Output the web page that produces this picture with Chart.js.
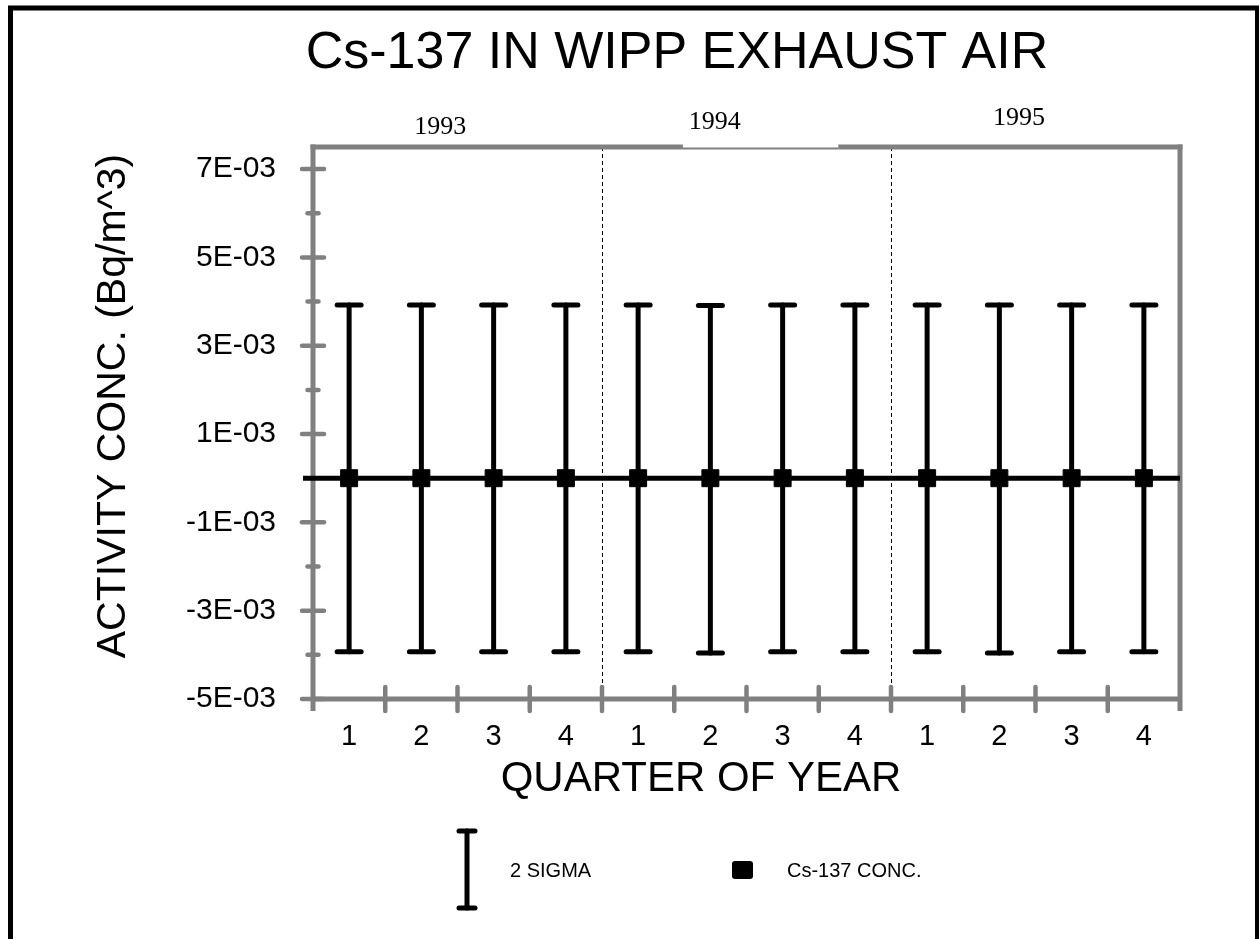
<!DOCTYPE html>
<html>
<head>
<meta charset="utf-8">
<title>Cs-137 IN WIPP EXHAUST AIR</title>
<script src="https://cdn.jsdelivr.net/npm/chart.js@4"></script>
<style>
body{margin:0;background:#fff;}
#wrap{width:1259px;height:939px;position:relative;}
</style>
</head>
<body>
<div id="wrap"><canvas id="chart"></canvas></div>
<script>
let quarters = ['1','2','3','4','1','2','3','4','1','2','3','4'];
let years = ['1993','1994','1995'];
let yearLabelPos = [1.26, 5.06, 9.27];
let yearLabelY = [127, 122, 118];
let concValues = [0,0,0,0,0,0,0,0,0,0,0,0];
let sigmaHigh = [0.00392,0.00392,0.00392,0.00392,0.00392,0.00391,0.00392,0.00392,0.00392,0.00392,0.00392,0.00392];
let sigmaLow = [-0.00393,-0.00393,-0.00393,-0.00393,-0.00393,-0.00396,-0.00393,-0.00393,-0.00393,-0.00396,-0.00393,-0.00393];
let yTickValues = [-0.005,-0.004,-0.003,-0.002,-0.001,0,0.001,0.002,0.003,0.004,0.005,0.006,0.007];
let yLabelValues = [-0.005,-0.003,-0.001,0.001,0.003,0.005,0.007];
let yLabelTexts = ['-5E-03','-3E-03','-1E-03','1E-03','3E-03','5E-03','7E-03'];

let frameGray = '#808080';
let sans = "'Liberation Sans', Arial, sans-serif";

function labelFor(v){
let i = yLabelValues.findIndex(function(l){ return Math.abs(l - v) < 1e-9; });
return i >= 0 ? yLabelTexts[i] : '';
}

function line(ctx, x1, y1, x2, y2){
ctx.beginPath();
ctx.moveTo(x1, y1);
ctx.lineTo(x2, y2);
ctx.stroke();
}

let decor = {
id:'decor',
beforeDatasetsDraw(chart){
let ctx = chart.ctx;
let a = chart.chartArea;
let x = chart.scales.x;
let y = chart.scales.y;

ctx.save();

// year dividers
ctx.strokeStyle = '#000';
ctx.lineWidth = 1;
ctx.setLineDash([4,3]);
[3.5, 7.5].forEach(function(v){
let px = Math.round(x.getPixelForValue(v)) + 0.5;
line(ctx, px, a.top, px, a.bottom);
});
ctx.setLineDash([]);

// frame
ctx.strokeStyle = frameGray;
ctx.lineWidth = 5;
ctx.lineCap = 'butt';
line(ctx, a.left, a.top - 2.5, a.left, a.bottom + 12);
line(ctx, a.right, a.top - 2.5, a.right, a.bottom + 12);
line(ctx, a.left, a.bottom, a.right, a.bottom);
let g1 = x.getPixelForValue(4.62);
let g2 = x.getPixelForValue(6.77);
line(ctx, a.left - 2.5, a.top, g1, a.top);
line(ctx, g2, a.top, a.right + 2.5, a.top);
ctx.lineWidth = 2;
line(ctx, g1, a.top + 1.5, g2, a.top + 1.5);

// tick marks
ctx.lineWidth = 4.5;
ctx.lineCap = 'round';
yTickValues.forEach(function(v){
let py = y.getPixelForValue(v);
let len = labelFor(v) ? 11 : 5.5;
if (v !== 0) line(ctx, a.left - len, py, a.left + len, py);
});
for (let i = 1; i < quarters.length; i++){
let px = x.getPixelForValue(i - 0.5);
line(ctx, px, a.bottom - 12, px, a.bottom + 12);
}

// zero line
ctx.strokeStyle = '#000';
ctx.lineWidth = 5;
ctx.lineCap = 'butt';
let py0 = y.getPixelForValue(0);
line(ctx, a.left - 10, py0, a.right, py0);

// 2 sigma error bars
ctx.lineWidth = 5;
ctx.lineCap = 'round';
quarters.forEach(function(q, i){
let px = x.getPixelForValue(i);
let top = y.getPixelForValue(sigmaHigh[i]);
let bot = y.getPixelForValue(sigmaLow[i]);
line(ctx, px, top, px, bot);
line(ctx, px - 12, top, px + 12, top);
line(ctx, px - 12, bot, px + 12, bot);
});

ctx.restore();
},
afterDraw(chart){
let ctx = chart.ctx;
let x = chart.scales.x;

ctx.save();
ctx.fillStyle = '#000';

ctx.font = '52px ' + sans;
ctx.textAlign = 'center';
ctx.textBaseline = 'middle';
ctx.fillText('Cs-137 IN WIPP EXHAUST AIR', 677, 54);

ctx.font = "26px 'Liberation Serif', 'Times New Roman', serif";
years.forEach(function(yr, i){
ctx.fillText(yr, x.getPixelForValue(yearLabelPos[i]), yearLabelY[i]);
});

ctx.font = '42px ' + sans;
ctx.textBaseline = 'alphabetic';
ctx.fillText('QUARTER OF YEAR', 701, 791);

ctx.save();
ctx.translate(125, 406);
ctx.rotate(-Math.PI/2);
ctx.font = '41px ' + sans;
ctx.fillText('ACTIVITY CONC. (Bq/m^3)', 0, 0);
ctx.restore();

// legend
ctx.strokeStyle = '#000';
ctx.lineWidth = 5;
ctx.lineCap = 'round';
line(ctx, 467, 831, 467, 908);
line(ctx, 459, 831, 475, 831);
line(ctx, 459, 908, 475, 908);
ctx.beginPath();
ctx.roundRect(732, 861, 21, 18, 3);
ctx.fill();
ctx.font = '20px ' + sans;
ctx.textAlign = 'left';
ctx.textBaseline = 'middle';
ctx.fillText('2 SIGMA', 510, 871);
ctx.fillText('Cs-137 CONC.', 787, 871);

// page border
ctx.lineWidth = 5;
ctx.lineCap = 'butt';
ctx.beginPath();
ctx.moveTo(10.5, 939);
ctx.lineTo(10.5, 8);
ctx.lineTo(1257.5, 8);
ctx.lineTo(1257.5, 939);
ctx.stroke();

ctx.restore();
}
};

let ctx = document.getElementById('chart').getContext('2d');

let chart = new Chart(ctx,{
type:'line',
data:{
labels:quarters,
datasets:[{
label:'Cs-137 CONC.',
data:concValues,
showLine:false,
pointStyle:'rect',
pointRadius:12,
pointHoverRadius:12,
pointBackgroundColor:'#000',
pointBorderColor:'#000',
pointBorderWidth:1
}]
},
options:{
responsive:true,
maintainAspectRatio:false,
animation:false,
events:[],
layout:{
padding:{top:147, right:79, left:0, bottom:0}
},
plugins:{
legend:{display:false},
title:{display:false},
tooltip:{enabled:false}
},
scales:{
x:{
type:'category',
offset:true,
grid:{display:false},
border:{display:false},
afterFit:function(s){ s.height = 240; },
ticks:{
color:'#000',
padding:13,
autoSkip:false,
maxRotation:0,
font:{family:sans, size:29}
}
},
y:{
min:-0.005,
max:0.0075,
grid:{display:false},
border:{display:false},
afterBuildTicks:function(s){ s.ticks = yTickValues.map(function(v){ return {value:v}; }); },
afterFit:function(s){ s.width = 313; },
ticks:{
color:'#000',
padding:29,
autoSkip:false,
font:{family:sans, size:30},
callback:function(v){ return labelFor(v); }
}
}
}
},
plugins:[decor]
});
</script>
</body>
</html>
